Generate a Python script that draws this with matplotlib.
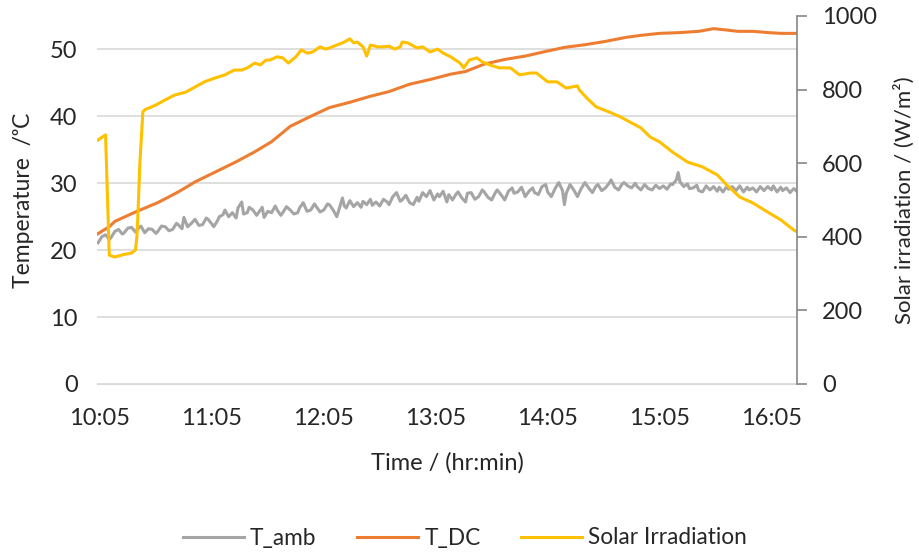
import matplotlib.pyplot as plt

plt.rcParams['font.family'] = ['Lato', 'DejaVu Sans']

# time in minutes after 10:05
tamb_t = [-1, 1, 3, 5, 6, 8, 10, 12, 13, 15, 17, 19, 20, 22, 24, 26, 28, 30, 31, 33,
          35, 37, 39, 41, 42, 44, 45, 47, 49, 51, 53, 55, 57, 58, 60, 61, 63, 64, 66, 67,
          69, 71, 73, 74, 76, 77, 79, 80, 82, 84, 85, 87, 88, 90, 92, 94, 95, 97, 98, 100,
          102, 104, 106, 107, 109, 111, 113, 115, 116, 118, 120, 122, 123, 125, 127, 130,
          131, 132, 134, 136, 138, 140, 141, 143, 145, 146, 148, 150, 152, 154, 155, 157,
          159, 161, 162, 164, 166, 168, 170, 171, 173, 175, 177, 179, 181, 182, 184, 186,
          187, 189, 191, 192, 194, 196, 197, 199, 201, 203, 205, 206, 208, 210, 212, 213,
          215, 217, 219, 221, 222, 224, 226, 228, 230, 232, 233, 235, 237, 239, 240, 242,
          244, 246, 248, 249, 250, 252, 254, 256, 258, 260, 262, 264, 266, 267, 269, 271,
          273, 274, 276, 278, 280, 281, 283, 285, 287, 288, 290, 292, 294, 296, 298, 300,
          302, 304, 306, 307, 309, 310, 311, 313, 315, 316, 318, 320, 321, 323, 325, 327,
          329, 331, 332, 334, 336, 337, 339, 341, 343, 345, 347, 348, 350, 352, 354, 356,
          358, 360, 361, 363, 365, 366, 368, 370, 372, 374]
tamb = [21.1, 22.0, 22.3, 21.6, 21.9, 22.8, 23.1, 22.4, 22.6, 23.3, 23.4, 22.7, 23.1, 23.6,
        22.6, 23.2, 23.1, 22.5, 22.8, 23.6, 23.5, 22.9, 23.1, 24.0, 23.8, 23.2, 24.9, 23.5,
        24.0, 24.6, 23.7, 23.8, 24.8, 24.6, 23.9, 23.5, 24.4, 25.0, 25.3, 26.0, 25.0, 25.6,
        24.8, 26.3, 27.2, 25.4, 25.6, 26.4, 26.0, 25.2, 25.6, 26.4, 24.9, 25.8, 25.6, 26.6,
        26.0, 25.2, 25.6, 26.5, 26.0, 25.4, 25.6, 26.3, 27.1, 25.8, 26.0, 26.9, 26.5, 25.7,
        26.0, 26.9, 26.8, 26.0, 25.0, 27.8, 26.6, 26.3, 27.4, 26.5, 27.1, 26.4, 27.3, 26.8,
        27.6, 26.7, 27.2, 26.6, 27.6, 27.2, 26.8, 28.0, 28.6, 27.3, 27.5, 28.2, 27.1, 26.8,
        27.9, 27.3, 28.6, 28.0, 28.9, 27.5, 28.4, 28.0, 28.8, 27.2, 28.3, 27.5, 28.4, 28.7,
        27.8, 27.2, 28.5, 28.6, 27.6, 28.0, 29.0, 28.7, 27.9, 27.5, 28.6, 29.0, 28.3, 27.5,
        28.8, 29.3, 28.5, 28.7, 29.4, 28.0, 28.8, 29.3, 28.6, 28.3, 29.5, 29.8, 28.7, 28.0,
        29.2, 30.1, 28.9, 26.8, 28.5, 29.8, 29.0, 28.0, 29.2, 30.1, 29.3, 28.6, 29.6, 29.8,
        28.9, 29.3, 30.0, 30.5, 29.4, 29.0, 29.9, 30.1, 29.6, 29.3, 30.0, 29.5, 29.0, 29.8,
        29.2, 29.0, 29.7, 29.2, 29.6, 29.1, 29.9, 29.8, 30.5, 31.6, 30.2, 29.5, 29.9, 29.2,
        29.3, 29.7, 28.9, 28.7, 29.6, 29.0, 29.5, 28.8, 29.4, 28.7, 29.5, 29.1, 29.5, 28.9,
        29.6, 28.7, 29.4, 29.0, 29.3, 28.7, 29.5, 28.9, 29.5, 29.0, 29.6, 28.7, 29.4, 28.9,
        29.3, 28.6, 29.2, 28.7]

tdc_t = [-2, 5, 8, 19, 31, 42, 51, 62, 73, 83, 92, 102, 113, 123, 134, 145, 155, 166, 177,
         188, 196, 206, 217, 228, 239, 249, 260, 271, 282, 290, 300, 310, 321, 329, 336,
         342, 350, 359, 365, 374]
tdc = [22.3, 23.5, 24.3, 25.7, 27.1, 28.7, 30.2, 31.7, 33.2, 34.7, 36.2, 38.5, 40.0, 41.3,
       42.1, 43.0, 43.7, 44.8, 45.5, 46.3, 46.7, 47.8, 48.5, 49.0, 49.7, 50.3, 50.7, 51.2,
       51.8, 52.1, 52.4, 52.5, 52.7, 53.1, 52.9, 52.7, 52.7, 52.5, 52.4, 52.4]

solar_t = [-1, 3, 5, 8, 13, 17, 19, 19.8, 20.4, 21.4, 23, 24, 30, 35, 40, 46, 51, 56, 62,
           67, 72, 76, 79, 83, 86, 89, 91, 95, 98, 101, 105, 108, 111, 114, 118, 121, 123,
           127, 131, 134, 136, 138, 141, 143, 145, 149, 152, 155, 158, 161, 162, 165, 170,
           173, 177, 181, 184, 188, 193, 195, 198, 202, 205, 209, 214, 220, 225, 231, 234,
           240, 245, 250, 256, 257, 261, 266, 273, 279, 284, 290, 295, 300, 307, 315, 323,
           331, 336, 343, 350, 358, 365, 372, 374]
solar = [663, 677, 350, 345, 352, 356, 364, 399, 465, 600, 739, 745, 758, 772, 785, 793,
         807, 821, 832, 840, 853, 853, 859, 872, 867, 880, 880, 889, 886, 872, 889, 908,
         899, 902, 916, 910, 913, 921, 929, 938, 927, 929, 916, 891, 921, 916, 916, 918,
         910, 916, 929, 927, 913, 916, 902, 910, 899, 889, 872, 859, 880, 886, 875, 867,
         859, 859, 840, 845, 845, 821, 821, 804, 810, 799, 777, 753, 739, 726, 712, 696,
         671, 658, 630, 603, 590, 568, 541, 508, 492, 467, 446, 418, 413]

tick_pos = [0, 60, 120, 180, 240, 300, 360]
tick_labels = ['10:05', '11:05', '12:05', '13:05', '14:05', '15:05', '16:05']

fig = plt.figure(figsize=(9.2, 5.54), dpi=100)
ax = fig.add_axes([0.1054, 0.3069, 0.7609, 0.6643])
ax2 = ax.twinx()

l1, = ax.plot(tamb_t, tamb, color='#A5A5A5', lw=2.2, label='T_amb')
l2, = ax.plot(tdc_t, tdc, color='#ED7D31', lw=2.2, label='T_DC')
l3, = ax2.plot(solar_t, solar, color='#FFC000', lw=2.2, label='Solar Irradiation')

ax.set_xlim(-1.6, 373.7)
ax.set_ylim(0, 55)
ax2.set_ylim(0, 1000)
ax.set_yticks([0, 10, 20, 30, 40, 50])
ax2.set_yticks([0, 200, 400, 600, 800, 1000])
ax.set_xticks(tick_pos)
ax.set_xticklabels(tick_labels)

ax.grid(axis='y', color='#D9D9D9', lw=1.2)
ax.set_axisbelow(True)
for s in ['top', 'left', 'right']:
    ax.spines[s].set_visible(False)
    ax2.spines[s].set_visible(False)
ax2.spines['bottom'].set_visible(False)
ax.spines['bottom'].set_color('#D9D9D9')
ax2.spines['right'].set_visible(True)
ax2.spines['right'].set_color('#868686')
ax2.spines['right'].set_linewidth(1.2)

ax.tick_params(axis='y', length=0, pad=14, labelsize=17, labelcolor='#262626')
ax.tick_params(axis='x', length=0, pad=17, labelsize=17, labelcolor='#262626')
ax2.tick_params(axis='y', length=7, width=1.2, color='#868686', pad=11, labelsize=17,
                labelcolor='#262626')

ax.set_ylabel('Temperature  /ᵒC', fontsize=16.5, color='#262626')
ax.yaxis.set_label_coords(-0.09, 0.5)
ax2.set_ylabel('Solar irradiation / (W/m²)', fontsize=16, color='#262626')
ax2.yaxis.set_label_coords(1.138, 0.5)
ax.set_xlabel('Time / (hr:min)', fontsize=17, color='#262626')
ax.xaxis.set_label_coords(0.5, -0.185)

fig.legend([l1, l2, l3], ['T_amb', 'T_DC', 'Solar Irradiation'], loc='center',
           bbox_to_anchor=(465 / 920, 1 - 538 / 554), ncol=3, frameon=False,
           fontsize=16.3, handlelength=2.7, handletextpad=0.25, columnspacing=1.8,
           labelcolor='#262626')

fig.savefig('out.png', dpi=100)
